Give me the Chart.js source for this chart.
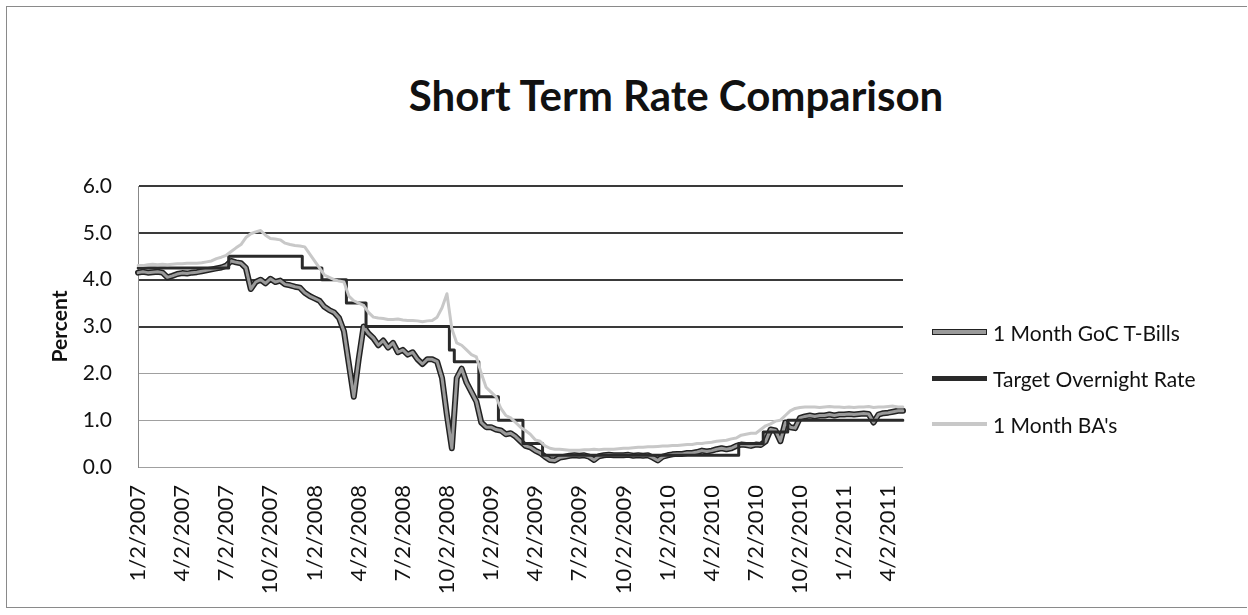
<!DOCTYPE html>
<html>
<head>
<meta charset="utf-8">
<script src="https://cdn.jsdelivr.net/npm/chart.js@4.4.1/dist/chart.umd.min.js"></script>
<style>
  html, body { margin: 0; padding: 0; background: #fff; }
  #wrap { position: relative; width: 1248px; height: 615px; overflow: hidden; font-family: Lato, sans-serif; }
  #frame { position: absolute; left: 6px; top: 6px; width: 1240px; height: 600px; border: 1px solid #8a8a8a; border-right: none; }
  #title { position: absolute; top: 70px; left: 676px; transform: translateX(-50%); font: bold 42px Lato, sans-serif; color: #111; white-space: nowrap; }
  #legend { position: absolute; left: 932px; top: 309px; }
  .item { display: flex; align-items: center; height: 46px; font-size: 21px; color: #111; }
  .swatch { width: 55px; margin-right: 6px; box-sizing: border-box; }
  canvas { position: absolute; left: 0; top: 0; }
</style>
</head>
<body>
<div id="wrap">
  <div id="frame"></div>
  <div id="title">Short Term Rate Comparison</div>
  <canvas id="rateChart" width="1248" height="615"></canvas>
  <div id="legend">
    <div class="item"><div class="swatch" style="height:6px;background:#9a9a9a;border:1.5px solid #222"></div>1 Month GoC T-Bills</div>
    <div class="item"><div class="swatch" style="height:5px;background:#2a2a2a"></div>Target Overnight Rate</div>
    <div class="item"><div class="swatch" style="height:4px;background:#c8c8c8"></div>1 Month BA's</div>
  </div>
</div>
<script>
// sample dates: 2nd, 12th and 22nd of each month, Jan 2007 - May 2011
const categories = [];
for (let y = 2007; y <= 2011; y++) {
  for (let m = 1; m <= 12; m++) {
    for (const d of [2, 12, 22]) {
      if (y === 2011 && (m > 5 || (m === 5 && d > 2))) break;
      categories.push(`${m}/${d}/${y}`);
    }
  }
}

const tickLabels = [
  '1/2/2007', '4/2/2007', '7/2/2007', '10/2/2007',
  '1/2/2008', '4/2/2008', '7/2/2008', '10/2/2008',
  '1/2/2009', '4/2/2009', '7/2/2009', '10/2/2009',
  '1/2/2010', '4/2/2010', '7/2/2010', '10/2/2010',
  '1/2/2011', '4/2/2011',
];

const tbillRates = [
  // 2007
  4.15, 4.17, 4.15,  4.16, 4.17, 4.15,  4.05, 4.08, 4.12,  4.14, 4.13, 4.15,
  4.16, 4.18, 4.2,   4.22, 4.24, 4.26,  4.3, 4.4, 4.37,    4.35, 4.25, 3.8,
  3.95, 4.0, 3.92,   4.02, 3.95, 3.98,  3.9, 3.88, 3.85,   3.83, 3.72, 3.65,
  // 2008
  3.6, 3.55, 3.42,   3.35, 3.3, 3.18,   2.9, 2.2, 1.5,     2.3, 3.0, 2.85,
  2.75, 2.6, 2.7,    2.55, 2.65, 2.45,  2.5, 2.4, 2.45,    2.3, 2.2, 2.3,
  2.3, 2.25, 1.9,    1.1, 0.4, 1.9,     2.1, 1.8, 1.6,     1.4, 0.95, 0.85,
  // 2009
  0.85, 0.8, 0.78,   0.7, 0.72, 0.65,   0.55, 0.45, 0.42,  0.35, 0.3, 0.22,
  0.15, 0.14, 0.2,   0.22, 0.24, 0.25,  0.24, 0.25, 0.22,  0.15, 0.23, 0.25,
  0.26, 0.25, 0.25,  0.25, 0.26, 0.24,  0.25, 0.24, 0.25,  0.2, 0.14, 0.22,
  // 2010
  0.25, 0.27, 0.28,  0.28, 0.3, 0.3,    0.32, 0.35, 0.33,  0.35, 0.38, 0.4,
  0.38, 0.4, 0.45,   0.48, 0.47, 0.45,  0.48, 0.47, 0.55,  0.8, 0.78, 0.55,
  0.95, 0.85, 0.83,  1.05, 1.08, 1.1,   1.08, 1.1, 1.1,    1.12, 1.1, 1.12,
  // 2011
  1.12, 1.13, 1.12,  1.13, 1.14, 1.13,  0.95, 1.12, 1.15,  1.16, 1.18, 1.2,
  1.2,
];

const targetRates = [
  // 2007
  4.25, 4.25, 4.25,  4.25, 4.25, 4.25,  4.25, 4.25, 4.25,  4.25, 4.25, 4.25,
  4.25, 4.25, 4.25,  4.25, 4.25, 4.25,  4.25, 4.5, 4.5,    4.5, 4.5, 4.5,
  4.5, 4.5, 4.5,     4.5, 4.5, 4.5,     4.5, 4.5, 4.5,     4.5, 4.25, 4.25,
  // 2008
  4.25, 4.25, 4.0,   4.0, 4.0, 4.0,     4.0, 3.5, 3.5,     3.5, 3.5, 3.0,
  3.0, 3.0, 3.0,     3.0, 3.0, 3.0,     3.0, 3.0, 3.0,     3.0, 3.0, 3.0,
  3.0, 3.0, 3.0,     3.0, 2.5, 2.25,    2.25, 2.25, 2.25,  2.25, 1.5, 1.5,
  // 2009
  1.5, 1.5, 1.0,     1.0, 1.0, 1.0,     1.0, 0.5, 0.5,     0.5, 0.5, 0.25,
  0.25, 0.25, 0.25,  0.25, 0.25, 0.25,  0.25, 0.25, 0.25,  0.25, 0.25, 0.25,
  0.25, 0.25, 0.25,  0.25, 0.25, 0.25,  0.25, 0.25, 0.25,  0.25, 0.25, 0.25,
  // 2010
  0.25, 0.25, 0.25,  0.25, 0.25, 0.25,  0.25, 0.25, 0.25,  0.25, 0.25, 0.25,
  0.25, 0.25, 0.25,  0.5, 0.5, 0.5,     0.5, 0.5, 0.75,    0.75, 0.75, 0.75,
  0.75, 1.0, 1.0,    1.0, 1.0, 1.0,     1.0, 1.0, 1.0,     1.0, 1.0, 1.0,
  // 2011
  1.0, 1.0, 1.0,     1.0, 1.0, 1.0,     1.0, 1.0, 1.0,     1.0, 1.0, 1.0,
  1.0,
];

const baRates = [
  // 2007
  4.3, 4.3, 4.32,    4.33, 4.32, 4.33,  4.32, 4.33, 4.34,  4.34, 4.35, 4.35,
  4.35, 4.36, 4.38,  4.4, 4.45, 4.48,   4.52, 4.6, 4.68,   4.75, 4.9, 4.98,
  5.02, 5.05, 4.95,  4.88, 4.87, 4.85,  4.78, 4.75, 4.73,  4.72, 4.7, 4.55,
  // 2008
  4.4, 4.25, 4.1,    4.05, 4.0, 3.97,   3.95, 3.65, 3.55,  3.5, 3.45, 3.3,
  3.2, 3.18, 3.17,   3.15, 3.15, 3.16,  3.14, 3.13, 3.13,  3.12, 3.1, 3.12,
  3.13, 3.2, 3.4,    3.7, 2.95, 2.65,   2.6, 2.5, 2.4,     2.35, 2.0, 1.7,
  // 2009
  1.6, 1.5, 1.25,    1.1, 1.05, 0.95,   0.85, 0.78, 0.7,   0.58, 0.55, 0.45,
  0.4, 0.38, 0.38,   0.37, 0.36, 0.36,  0.36, 0.37, 0.37,  0.38, 0.37, 0.38,
  0.38, 0.38, 0.39,  0.4, 0.4, 0.41,    0.42, 0.42, 0.43,  0.43, 0.44, 0.45,
  // 2010
  0.45, 0.46, 0.46,  0.47, 0.48, 0.48,  0.5, 0.5, 0.52,    0.53, 0.55, 0.56,
  0.57, 0.6, 0.62,   0.68, 0.7, 0.72,   0.72, 0.8, 0.88,   0.92, 0.98, 1.0,
  1.1, 1.2, 1.25,    1.27, 1.28, 1.28,  1.28, 1.27, 1.28,  1.29, 1.28, 1.28,
  // 2011
  1.27, 1.28, 1.27,  1.28, 1.28, 1.29,  1.27, 1.28, 1.28,  1.29, 1.3, 1.28,
  1.28,
];

const yTicks = [0, 1, 2, 3, 4, 5, 6];

const baseFont = { family: 'Lato, sans-serif', size: 21 };

new Chart(document.getElementById('rateChart'), {
  type: 'line',
  data: {
    labels: categories,
    datasets: [
      {
        label: "1 Month BA's",
        data: baRates,
        borderColor: '#c8c8c8',
        borderWidth: 3,
        order: 0,
      },
      {
        label: 'Target Overnight Rate',
        data: targetRates,
        borderColor: '#2a2a2a',
        borderWidth: 3,
        stepped: 'middle',
        order: 1,
      },
      {
        label: '1 Month GoC T-Bills',
        data: tbillRates,
        borderColor: '#9a9a9a',
        borderWidth: 3,
        order: 2,
      },
      {
        label: '1 Month GoC T-Bills outline',
        data: tbillRates,
        borderColor: '#222',
        borderWidth: 6,
        order: 3,
      },
    ],
  },
  options: {
    responsive: false,
    animation: false,
    layout: {
      padding: { top: 186, right: 345, bottom: 0, left: 0 },
    },
    elements: {
      point: { radius: 0 },
      line: { tension: 0, borderJoinStyle: 'round', borderCapStyle: 'round' },
    },
    scales: {
      x: {
        grid: { display: false },
        border: { display: false },
        ticks: {
          autoSkip: false,
          maxRotation: 90,
          minRotation: 90,
          padding: 10,
          color: '#111',
          font: { family: 'Lato, sans-serif', size: 22 },
          callback: (value, index) => (tickLabels.includes(categories[index]) ? categories[index] : null),
        },
        afterFit: (scale) => { scale.height = 148; },
      },
      y: {
        min: 0,
        max: 6,
        afterBuildTicks: (scale) => { scale.ticks = yTicks.map((v) => ({ value: v })); },
        grid: {
          drawTicks: false,
          color: (ctx) => (ctx.tick && ctx.tick.value >= 3 ? '#3a3a3a' : '#a0a0a0'),
          lineWidth: (ctx) => (ctx.tick && ctx.tick.value >= 3 ? 2 : 1),
        },
        border: { display: true, color: '#888', width: 1 },
        ticks: {
          padding: 26,
          color: '#111',
          font: baseFont,
          callback: (value) => Number(value).toFixed(1),
        },
        title: {
          display: true,
          text: 'Percent',
          color: '#111',
          font: { family: 'Lato, sans-serif', size: 21, weight: 'bold' },
          padding: { top: 48, bottom: 0 },
        },
        afterFit: (scale) => { scale.width = 138; },
      },
    },
    plugins: {
      legend: { display: false },
      title: { display: false },
      tooltip: { enabled: false },
    },
  },
});
</script>
</body>
</html>
